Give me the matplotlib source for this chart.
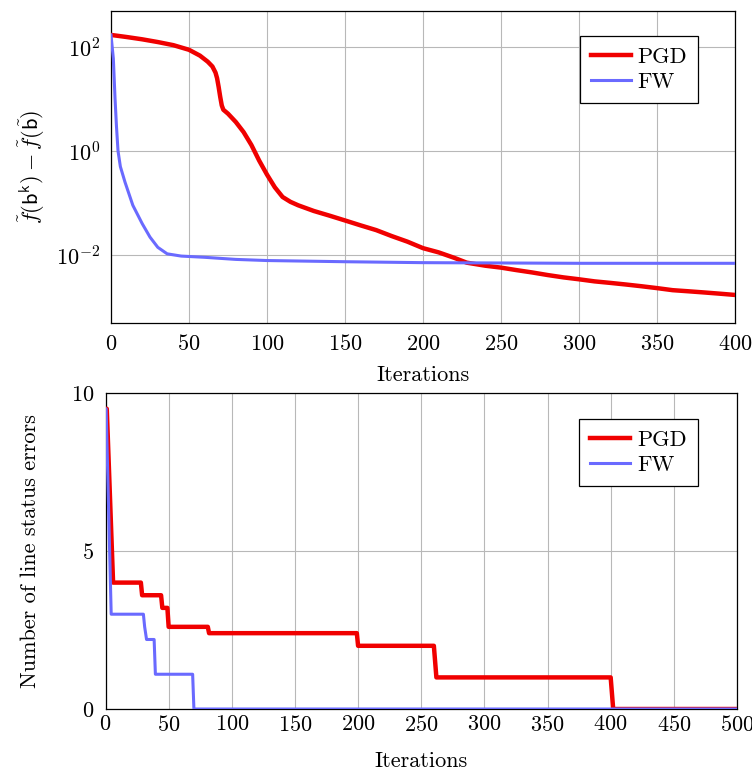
import matplotlib
matplotlib.use('Agg')
import matplotlib.pyplot as plt

# objective gap vs iterations
pgd_iter = [0, 10, 20, 30, 40, 50, 57, 62, 65, 67, 68, 69, 70, 71, 72, 75, 80, 85, 90, 95,
            100, 105, 110, 115, 120, 130, 140, 150, 160, 170, 180, 190, 200, 210, 220, 228,
            240, 250, 260, 270, 280, 290, 300, 310, 320, 330, 340, 350, 360, 370, 380, 390, 400]
pgd_gap = [170, 155, 140, 124, 108, 88, 68, 52, 42, 32, 25, 17, 11, 7.5, 6.2, 5.2, 3.6, 2.3, 1.3, 0.65,
           0.35, 0.2, 0.13, 0.105, 0.09, 0.07, 0.057, 0.046, 0.037, 0.03, 0.023, 0.018, 0.0135, 0.0112, 0.0088, 0.0071,
           0.0062, 0.0057, 0.0051, 0.0046, 0.0041, 0.0037, 0.0034, 0.0031, 0.0029, 0.0027, 0.0025, 0.0023, 0.0021, 0.002, 0.0019, 0.0018, 0.0017]

fw_iter = [0, 1.5, 2.6, 3.5, 4.5, 6, 9, 14, 20, 25, 30, 36, 45, 60, 80, 100, 150, 200, 300, 400]
fw_gap = [170, 60, 10, 3, 1.0, 0.5, 0.25, 0.09, 0.04, 0.022, 0.014, 0.0105, 0.0095, 0.009, 0.0082,
          0.0078, 0.0074, 0.0071, 0.0069, 0.0069]

# line status errors vs iterations
pgd_err_iter = [0, 1, 6, 28, 29, 44, 45, 49, 50, 81, 82, 199, 200, 260, 262, 400, 402, 500]
pgd_err = [9.5, 9.5, 4.0, 4.0, 3.6, 3.6, 3.2, 3.2, 2.6, 2.6, 2.4, 2.4, 2.0, 2.0, 1.0, 1.0, 0, 0]

fw_err_iter = [0, 0.5, 4.5, 30, 31, 32.5, 38.5, 39.5, 69, 70, 500]
fw_err = [9.5, 9.5, 3.0, 3.0, 2.6, 2.2, 2.2, 1.1, 1.1, 0, 0]

plt.rcParams['font.family'] = 'cmr10'
plt.rcParams['mathtext.fontset'] = 'cm'
plt.rcParams['axes.formatter.use_mathtext'] = True
plt.rcParams['font.size'] = 16

red = '#f00000'
blue = '#6a6aff'

fig = plt.figure(figsize=(7.52, 7.71), dpi=100)
ax1 = fig.add_axes([0.1476, 0.581, 0.8298, 0.4047])
ax2 = fig.add_axes([0.1403, 0.0804, 0.8397, 0.4099])

ax1.plot(pgd_iter, pgd_gap, color=red, linewidth=3.2, label='PGD', zorder=3)
ax1.plot(fw_iter, fw_gap, color=blue, linewidth=2.2, label='FW', zorder=3)
ax1.set_yscale('log')
ax1.set_xlim(0, 400)
ax1.set_ylim(10 ** -3.31, 10 ** 2.69)
ax1.set_xticks(range(0, 401, 50))
ax1.set_yticks([1e-2, 1e0, 1e2])
ax1.minorticks_off()
ax1.set_xlabel('Iterations', labelpad=8)
ax1.set_ylabel(r'$\tilde{f}(\mathsf{b}^{\mathsf{k}}) - \tilde{f}(\tilde{\mathsf{b}})$', labelpad=6)

ax2.plot(pgd_err_iter, pgd_err, color=red, linewidth=3.2, label='PGD', zorder=3)
ax2.plot(fw_err_iter, fw_err, color=blue, linewidth=2.2, label='FW', zorder=3)
ax2.set_xlim(0, 500)
ax2.set_ylim(0, 10)
ax2.set_xticks(range(0, 501, 50))
ax2.set_yticks([0, 5, 10])
ax2.set_xlabel('Iterations', labelpad=12)
ax2.set_ylabel('Number of line status errors', labelpad=22)

for ax, anchor in [(ax1, (0.941, 0.92)), (ax2, (0.938, 0.918))]:
    ax.grid(True, color='#b8b8b8', linewidth=0.8)
    ax.set_axisbelow(True)
    ax.tick_params(direction='in', length=0, pad=8)
    for s in ax.spines.values():
        s.set_linewidth(0.9)
    leg = ax.legend(loc='upper right', bbox_to_anchor=anchor, fancybox=False,
                    edgecolor='black', framealpha=1, handlelength=1.8,
                    handletextpad=0.3, borderpad=0.5, labelspacing=0.25,
                    borderaxespad=0)
    leg.get_frame().set_linewidth(0.9)

ax2.tick_params(axis='x', pad=4)

fig.savefig('out.png', dpi=100)
